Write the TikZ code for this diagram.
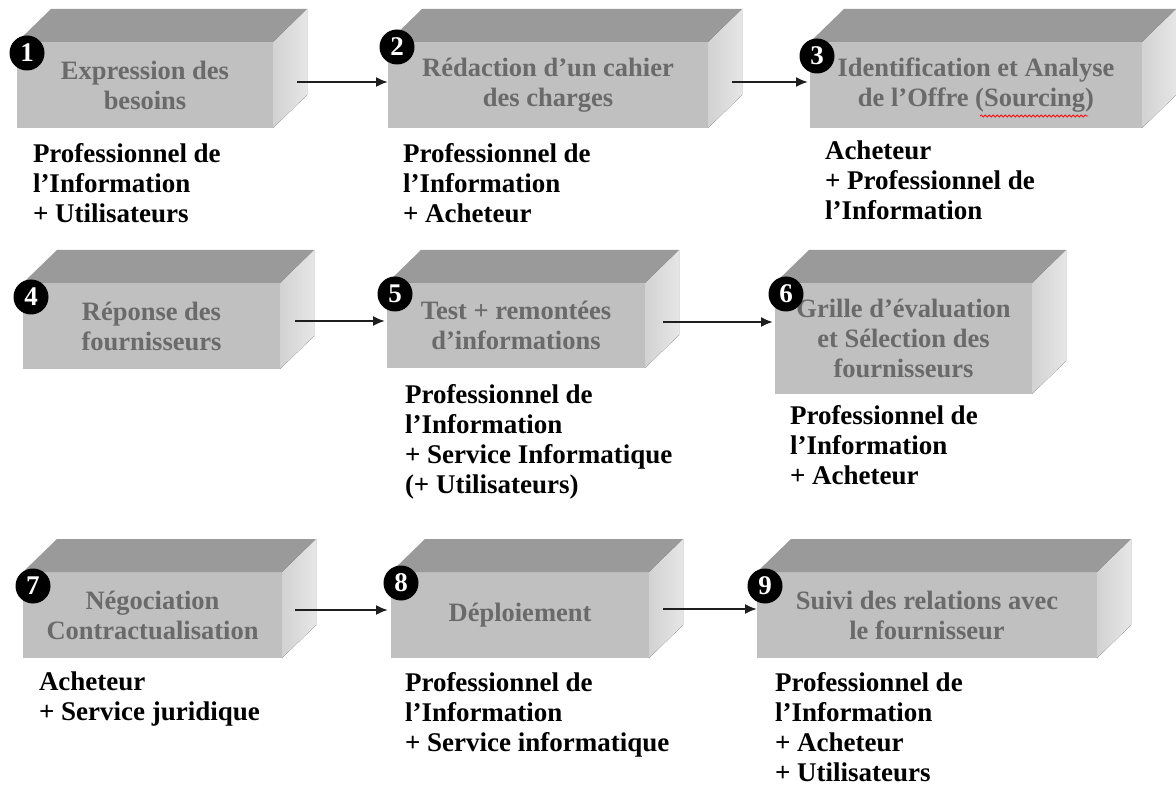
\documentclass[tikz,border=0pt]{standalone}
\usepackage{fontspec}
\setmainfont{Liberation Serif}
\usetikzlibrary{calc,arrows.meta,decorations.pathmorphing}
\definecolor{topgray}{HTML}{9A9A9A}
\definecolor{frontgray}{HTML}{C0C0C0}
\definecolor{sidegrayA}{HTML}{D2D2D2}
\definecolor{sidegrayB}{HTML}{E6E6E6}
\definecolor{boxtext}{HTML}{6A6A6A}
\definecolor{arrowcol}{HTML}{1E1E1E}
\tikzset{
  front/.style={fill=frontgray, inner sep=0pt, outer sep=0pt, text=boxtext, align=center,
    font=\fontsize{26.5}{30}\selectfont\bfseries},
  badge/.style={circle, fill=black, text=white, minimum size=35pt, inner sep=0pt,
    font=\fontsize{27}{27}\selectfont\bfseries},
  role/.style={anchor=north west, inner sep=0pt, outer sep=0pt, align=left, text=black,
    font=\fontsize{27}{30}\selectfont\bfseries},
  arr/.style={line width=2pt, draw=arrowcol, -{Latex[length=12pt,width=10pt]}},
  topface/.style={fill=topgray},
  sideface/.style={left color=sidegrayA, right color=sidegrayB},
  spell/.style={draw=red, line width=0.7pt, decorate, decoration={snake, amplitude=1.1pt, segment length=4pt}},
}
\newcommand\cubefaces[1]{%
  \fill[topface] (#1.north west) -- ++(34,-33) -- ($(#1.north east)+(34,-33)$) -- (#1.north east) -- cycle;
  \fill[sideface] (#1.north east) -- ++(34,-33) -- ($(#1.south east)+(34,-33)$) -- (#1.south east) -- cycle;}
\begin{document}
\begin{tikzpicture}[x=1pt,y=-1pt]
\fill[white] (0,0) rectangle (1176,786);
\useasboundingbox (0,0) rectangle (1176,786);

% front faces
\node[front, minimum width=256pt, minimum height=86pt] (b1) at (145,85) {Expression des\\besoins};
\node[front, minimum width=320pt, minimum height=86pt] (b2) at (548,85) {Rédaction d’un cahier\\des charges};
\node[front, minimum width=332pt, minimum height=86pt] (b3) at (976,85) {Identification et Analyse\\de l'Offre (Sourcing)};
\node[front, minimum width=257pt, minimum height=86pt] (b4) at (151.5,326) {Réponse des\\fournisseurs};
\node[front, minimum width=258pt, minimum height=85pt] (b5) at (516,325.5) {Test + remontées\\d’informations};
\node[front, minimum width=257pt, minimum height=111pt] (b6) at (903.5,338.5) {Grille d’évaluation\\et Sélection des\\fournisseurs};
\node[front, minimum width=259pt, minimum height=86pt] (b7) at (152.5,615) {Négociation\\Contractualisation};
\node[front, minimum width=258pt, minimum height=86pt] (b8) at (520,615) {Déploiement};
\node[front, minimum width=340pt, minimum height=86pt] (b9) at (927,615) {Suivi des relations avec\\le fournisseur};

\cubefaces{b1}\cubefaces{b2}\cubefaces{b3}
\cubefaces{b4}\cubefaces{b5}\cubefaces{b6}
\cubefaces{b7}\cubefaces{b8}\cubefaces{b9}

% spelling mark under "Sourcing"
\draw[spell] (980,116) -- (1088,116);

% arrows
\draw[arr] ($(b1.east)+(24,-3)$) -- ($(b2.west)+(0,-3)$);
\draw[arr] ($(b2.east)+(24,-3)$) -- ($(b3.west)+(-2,-3)$);
\draw[arr] ($(b4.east)+(15,-5)$) -- ($(b5.west)+(-2,-4.5)$);
\draw[arr] ($(b5.east)+(18,-3.5)$) -- ($(b6.west)+(-2,-16.5)$);
\draw[arr] ($(b7.east)+(13,-5)$) -- ($(b8.west)+(-3,-5)$);
\draw[arr] ($(b8.east)+(14,-6)$) -- ($(b9.west)+(0,-6)$);

% badges
\node[badge] (n1) at (27,53) {1};
\node[badge] (n2) at (397,47) {2};
\node[badge] (n3) at (817,56) {3};
\node[badge] (n4) at (31,297) {4};
\node[badge] (n5) at (395,294) {5};
\node[badge] (n6) at (786,294) {6};
\node[badge] (n7) at (33,586) {7};
\node[badge] (n8) at (401,583) {8};
\node[badge] (n9) at (765,586) {9};

% roles
\node[role] (r1) at (33,143) {Professionnel de\\l'Information\\+ Utilisateurs};
\node[role] (r2) at (403,143) {Professionnel de\\l'Information\\+ Acheteur};
\node[role] (r3) at (825,141) {Acheteur\\+ Professionnel de\\l'Information};
\node[role] (r5) at (405,384) {Professionnel de\\l'Information\\+ Service Informatique\\(+ Utilisateurs)};
\node[role] (r6) at (790,405) {Professionnel de\\l'Information\\+ Acheteur};
\node[role] (r7) at (39,672) {Acheteur\\+ Service juridique};
\node[role] (r8) at (405,672) {Professionnel de\\l'Information\\+ Service informatique};
\node[role] (r9) at (775,672) {Professionnel de\\l'Information\\+ Acheteur\\+ Utilisateurs};
\end{tikzpicture}
\end{document}
